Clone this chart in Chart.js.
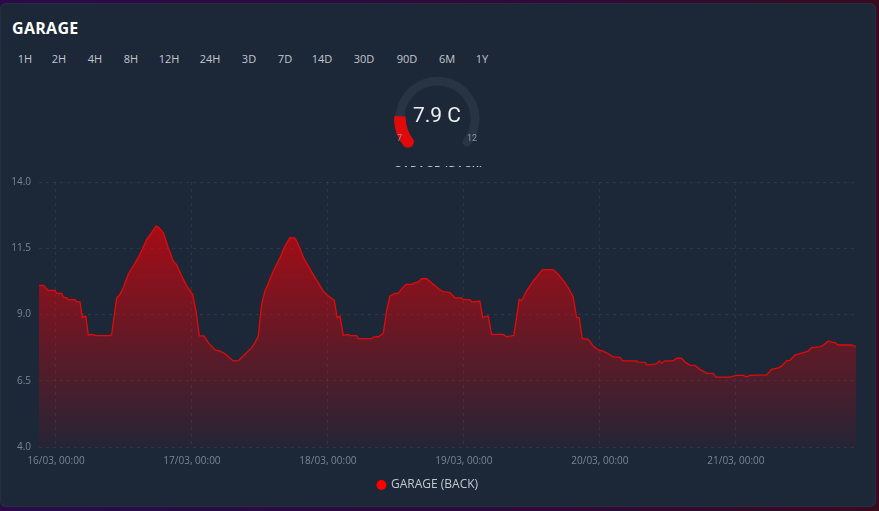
<!DOCTYPE html>
<html>
<head>
<meta charset="utf-8">
<script src="https://cdn.jsdelivr.net/npm/chart.js@4"></script>
<style>
  html,body{margin:0;padding:0;width:879px;height:511px;overflow:hidden;
    background:linear-gradient(90deg,#2c0a4a 0%,#30093a 60%,#3a0a1e 100%);}
  #card{position:absolute;left:0;top:3px;width:876px;height:504px;background:#1c2738;
    border-radius:6px;box-shadow:inset 0 0 0 1px #243042;}
  #title{position:absolute;left:12px;top:17px;font:700 16px "Open Sans",sans-serif;color:#ffffff;letter-spacing:0.3px;}
  .btn{position:absolute;top:51px;font:500 11px "Open Sans",sans-serif;color:#c3c8d0;transform:translateX(-50%);white-space:nowrap;}
  #gaugeWrap{position:absolute;left:380px;top:70px;width:120px;height:97px;overflow:hidden;}
  #gaugeBox{position:absolute;left:14px;top:5px;width:87px;height:75px;}
  #gval{position:absolute;left:-3px;width:120px;top:33px;text-align:center;font:400 21px Roboto,sans-serif;color:#eceff3;}
  .glab{position:absolute;top:63px;font:400 9px Roboto,sans-serif;color:#8d96a3;}
  #gname{position:absolute;left:0;width:117px;top:92px;text-align:center;font:600 11px "Open Sans",sans-serif;color:#c3c8d0;letter-spacing:0.6px;}
  #mainBox{position:absolute;left:0;top:168px;width:879px;height:335px;}
</style>
</head>
<body>
<div id="card"></div>
<div id="title">GARAGE</div>
<div id="btns"></div>
<div id="gaugeWrap">
  <div id="gaugeBox"><canvas id="gauge"></canvas></div>
  <div id="gval"></div>
  <div class="glab" style="left:17px">7</div>
  <div class="glab" style="left:87px">12</div>
  <div id="gname">GARAGE (BACK)</div>
</div>
<div id="mainBox"><canvas id="main"></canvas></div>
<script>
// ---- data ----
const rangeButtons = ["1H","2H","4H","8H","12H","24H","3D","7D","14D","30D","90D","6M","1Y"];
const seriesName = "GARAGE (BACK)";
const gaugeMin = 7, gaugeMax = 12, gaugeValue = 7.9, gaugeUnit = "C";
// hours since 16/03 00:00
const hours = [-3.0,-2.24,-1.36,-0.18,0.12,1.0,1.29,1.89,2.17,3.35,3.65,4.24,4.64,5.12,5.29,5.70,6.30,7.18,9.53,9.83,
  10.71,11.29,11.88,12.76,13.64,14.82,16.01,16.89,17.65,18.05,18.94,19.82,20.70,21.30,22.18,23.06,24.12,24.71,25.29,26.12,
  26.88,28.06,28.94,29.82,31.29,32.17,33.35,34.54,35.12,35.70,36.30,36.88,37.64,38.35,39.53,40.41,41.29,42.18,42.76,43.64,
  44.52,45.71,47.17,48.05,49.11,49.64,50.12,50.70,51.58,51.88,53.06,53.35,55.71,56.0,56.88,57.76,58.35,58.94,59.82,60.41,
  61.0,61.76,62.76,63.35,63.88,64.53,65.41,66.58,67.64,68.35,69.53,70.41,71.59,71.88,73.06,73.36,74.82,75.30,76.0,76.29,
  76.88,78.93,79.53,80.12,80.82,81.76,82.18,83.06,84.23,85.11,85.89,87.76,88.64,89.52,90.41,91.29,91.89,92.35,92.88,93.94,
  94.82,95.71,96.59,97.47,98.35,99.53,100.0,102.47,102.76,103.94,104.35,106.0,106.47,106.88,107.47,108.94,109.53,110.41,111.0,111.88,
  112.76,113.65,114.83,116.0,116.47,118.94,120.12,121.29,121.88,122.47,125.41,126.29,127.47,128.06,128.94,129.53,130.41,131.29,132.18,132.76,
  133.35,134.82,135.41,136.29,136.88,137.47,138.05,140.41,141.2];
const temps = [10.10,10.10,9.91,9.91,9.80,9.80,9.66,9.63,9.56,9.56,9.48,9.48,8.88,8.94,8.88,8.23,8.25,8.20,8.20,8.25,
  9.63,9.76,10.01,10.52,10.83,11.27,11.84,12.09,12.34,12.30,12.09,11.52,11.02,10.87,10.45,10.08,9.76,9.13,8.19,8.19,
  7.94,7.66,7.62,7.52,7.25,7.25,7.50,7.75,7.94,8.19,9.38,9.89,10.26,10.64,11.14,11.58,11.90,11.88,11.65,11.17,
  10.83,10.39,9.89,9.70,9.54,8.88,8.94,8.21,8.25,8.20,8.20,8.09,8.09,8.15,8.16,8.29,9.13,9.70,9.80,9.80,
  9.97,10.14,10.14,10.20,10.22,10.35,10.35,10.14,9.95,9.86,9.83,9.63,9.63,9.56,9.56,9.48,9.50,8.88,8.94,8.94,
  8.25,8.25,8.16,8.18,8.21,9.57,9.52,9.89,10.26,10.49,10.69,10.69,10.52,10.29,10.01,9.66,8.88,8.88,8.09,8.07,
  7.81,7.66,7.62,7.52,7.40,7.38,7.25,7.25,7.20,7.19,7.09,7.14,7.25,7.16,7.25,7.25,7.35,7.35,7.21,7.09,
  7.08,6.93,6.78,6.78,6.64,6.64,6.70,6.70,6.65,6.70,6.72,6.93,6.99,7.05,7.25,7.27,7.47,7.52,7.58,7.62,
  7.75,7.78,7.84,8.00,7.96,7.94,7.85,7.85,7.79];
const xTickHours = [0,24,48,72,96,120];
const xTickLabels = ["16/03, 00:00","17/03, 00:00","18/03, 00:00","19/03, 00:00","20/03, 00:00","21/03, 00:00"];
const yMin = 4, yMax = 14, yStep = 2.5;

// ---- range buttons ----
const btnCenters = [25,59,95,131,169,210,249,285,322,364,407,447,482];
const btnsEl = document.getElementById('btns');
rangeButtons.forEach((b,i)=>{const s=document.createElement('div');s.className='btn';s.textContent=b;s.style.left=btnCenters[i]+'px';btnsEl.appendChild(s);});

// ---- gauge ----
document.getElementById('gval').textContent = gaugeValue.toFixed(1)+' '+gaugeUnit;
new Chart(document.getElementById('gauge'),{
  type:'doughnut',
  data:{datasets:[{
    data:[gaugeValue-gaugeMin, gaugeMax-gaugeValue],
    backgroundColor:['#e00a0a','#283444'],
    borderColor:['#e00a0a','#283444'],
    borderWidth:[3,0],
    borderRadius:(c)=> c.dataIndex===0 ? {outerStart:6,innerStart:6,outerEnd:2,innerEnd:2} : {outerStart:0,innerStart:0,outerEnd:4,innerEnd:4}
  }]},
  options:{responsive:true,maintainAspectRatio:false,animation:false,
    rotation:-135,circumference:270,cutout:'79%',
    plugins:{legend:{display:false},tooltip:{enabled:false}},events:[]}
});

// ---- main chart ----
const points = hours.map((h,i)=>({x:h,y:temps[i]}));
const gridColor = 'rgba(255,255,255,0.07)';
const tickColor = '#7c8592';
new Chart(document.getElementById('main'),{
  type:'line',
  data:{datasets:[{
    label:seriesName,
    data:points,
    borderColor:'#e30a0a',
    borderWidth:1.3,
    pointRadius:0,
    tension:0,
    fill:'start',
    backgroundColor:(ctx)=>{
      const ca = ctx.chart.chartArea;
      if(!ca) return 'rgba(200,0,0,0.5)';
      const g = ctx.chart.ctx.createLinearGradient(0,ca.top,0,ca.bottom);
      g.addColorStop(0,'rgba(232,0,6,0.80)');
      g.addColorStop(1,'rgba(232,0,6,0.05)');
      return g;
    }
  }]},
  options:{
    responsive:true,maintainAspectRatio:false,animation:false,events:[],
    layout:{padding:{left:0,right:23,top:5,bottom:2}},
    scales:{
      x:{type:'linear',min:hours[0],max:hours[hours.length-1],
        afterBuildTicks:(s)=>{s.ticks = xTickHours.map(v=>({value:v}));},
        ticks:{color:tickColor,font:{family:'"Open Sans"',size:10},maxRotation:0,autoSkip:false,padding:8,
          callback:(v)=>{const i=xTickHours.indexOf(v);return i>=0?xTickLabels[i]:'';}},
        grid:{color:gridColor,drawTicks:false},border:{display:false,dash:[3,4]}
      },
      y:{min:yMin,max:yMax,
        afterFit:(s)=>{s.width=39;},
        ticks:{stepSize:yStep,color:tickColor,font:{family:'"Open Sans"',size:10},padding:8,
          callback:(v)=>Number(v).toFixed(1)},
        grid:{color:gridColor,drawTicks:false},border:{display:false,dash:[3,4]}
      }
    },
    plugins:{
      legend:{position:'bottom',labels:{color:'#c3c8d0',font:{family:'"Open Sans"',size:12},usePointStyle:true,pointStyle:'circle',boxWidth:7,boxHeight:7,padding:4,
        generateLabels:(c)=>[{text:seriesName,fillStyle:'#ff0000',strokeStyle:'#ff0000',lineWidth:0,pointStyle:'circle',fontColor:'#c3c8d0',datasetIndex:0}]}},
      tooltip:{enabled:false}
    }
  }
});
</script>
</body>
</html>
